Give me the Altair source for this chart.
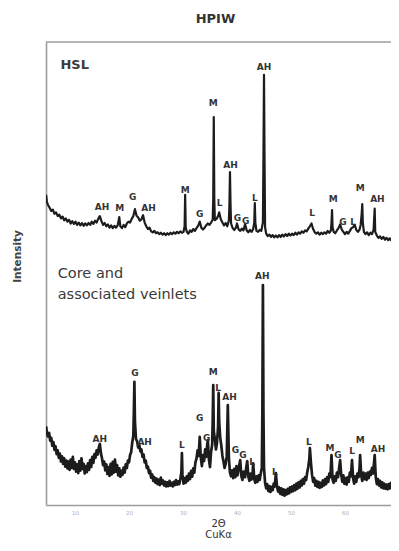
import altair as alt
import pandas as pd

# ---- data: (2-theta, intensity) ----
hsl_points = [
    (4.65, 67.0), (4.8, 65.5), (5.0, 64.8), (5.3, 64.2), (5.6, 63.5), (5.9, 63.8), (6.2, 62.9),
    (6.5, 63.2), (6.8, 62.4), (7.1, 62.7), (7.4, 61.9), (7.7, 62.3), (8.0, 61.5), (8.3, 61.9),
    (8.6, 61.2), (8.9, 61.6), (9.2, 60.8), (9.5, 61.3), (9.8, 60.7), (10.1, 61.2), (10.4, 60.5),
    (10.7, 61.0), (11.0, 60.4), (11.3, 60.9), (11.6, 60.3), (11.9, 60.8), (12.2, 60.4), (12.5, 60.9),
    (12.8, 60.5), (13.1, 61.2), (13.4, 60.7), (13.7, 61.4), (14.0, 61.0), (14.3, 61.8), (14.6, 62.4),
    (14.9, 61.3), (15.2, 60.5), (15.5, 60.9), (15.8, 60.2), (16.1, 60.6), (16.4, 59.9), (16.7, 60.4),
    (17.0, 59.8), (17.3, 60.3), (17.6, 59.9), (17.9, 60.4), (18.2, 62.2), (18.4, 60.2), (18.7, 59.8),
    (19.0, 60.5), (19.3, 60.0), (19.6, 60.8), (19.9, 61.2), (20.2, 61.0), (20.5, 61.8), (20.8, 62.4),
    (21.1, 63.9), (21.4, 62.5), (21.7, 62.1), (22.0, 61.4), (22.3, 61.7), (22.6, 62.6), (22.9, 61.0),
    (23.2, 60.2), (23.5, 59.6), (23.8, 59.9), (24.1, 59.1), (24.4, 58.9), (24.7, 59.2), (25.0, 58.7),
    (25.3, 58.9), (25.6, 58.5), (25.9, 58.8), (26.2, 58.4), (26.5, 58.7), (26.8, 58.3), (27.1, 58.7),
    (27.4, 58.4), (27.7, 58.8), (28.0, 58.5), (28.3, 58.9), (28.6, 58.6), (28.9, 59.0), (29.2, 58.7),
    (29.5, 59.1), (29.8, 58.8), (30.1, 59.0), (30.3, 60.2), (30.4, 67.0), (30.5, 60.0), (30.7, 59.0),
    (31.0, 58.6), (31.3, 59.3), (31.6, 59.0), (31.9, 59.6), (32.2, 59.2), (32.5, 59.8), (32.8, 60.3),
    (33.1, 61.2), (33.4, 59.9), (33.7, 59.5), (34.0, 59.9), (34.3, 60.4), (34.6, 60.8), (34.9, 60.5),
    (35.2, 61.0), (35.5, 61.6), (35.6, 66.0), (35.7, 83.8), (35.8, 66.0), (35.9, 61.5), (36.2, 61.8),
    (36.5, 62.4), (36.7, 63.2), (37.0, 61.7), (37.3, 61.0), (37.6, 60.4), (37.9, 60.9), (38.2, 60.2),
    (38.5, 61.5), (38.6, 65.0), (38.7, 71.9), (38.8, 65.0), (38.9, 60.8), (39.2, 59.8), (39.5, 59.4),
    (39.8, 59.9), (40.0, 60.8), (40.3, 59.5), (40.6, 59.2), (40.9, 59.7), (41.2, 59.3), (41.5, 60.7),
    (41.8, 59.3), (42.1, 58.9), (42.4, 59.4), (42.7, 59.0), (43.0, 59.6), (43.2, 61.0), (43.3, 65.2),
    (43.4, 61.0), (43.6, 59.2), (43.9, 59.0), (44.2, 59.4), (44.5, 59.2), (44.8, 61.0), (44.9, 75.0),
    (45.0, 92.9), (45.1, 75.0), (45.2, 60.0), (45.4, 58.6), (45.7, 58.1), (46.0, 58.4), (46.3, 57.9),
    (46.6, 58.3), (46.9, 57.8), (47.2, 58.2), (47.5, 57.8), (47.8, 58.3), (48.1, 57.9), (48.4, 58.4),
    (48.7, 58.0), (49.0, 58.5), (49.3, 58.1), (49.6, 58.6), (49.9, 58.2), (50.2, 58.6), (50.5, 58.3),
    (50.8, 58.8), (51.1, 58.4), (51.4, 58.9), (51.7, 58.6), (52.0, 59.1), (52.3, 58.8), (52.6, 59.3),
    (52.9, 59.1), (53.2, 59.7), (53.5, 60.2), (53.8, 60.8), (54.1, 59.6), (54.4, 58.9), (54.7, 58.6),
    (55.0, 58.9), (55.3, 58.4), (55.6, 58.8), (55.9, 58.5), (56.2, 58.9), (56.5, 58.6), (56.8, 59.2),
    (57.1, 58.8), (57.4, 59.3), (57.5, 61.0), (57.6, 63.7), (57.7, 60.0), (57.9, 59.0), (58.2, 58.7),
    (58.5, 59.3), (58.8, 59.8), (59.1, 60.6), (59.4, 59.5), (59.7, 59.0), (60.0, 58.5), (60.3, 59.0),
    (60.6, 58.6), (60.9, 59.2), (61.2, 59.8), (61.5, 60.0), (61.8, 60.5), (62.1, 59.4), (62.4, 59.0),
    (62.7, 59.5), (62.9, 60.5), (63.1, 63.0), (63.2, 65.0), (63.3, 61.0), (63.5, 59.0), (63.8, 58.5),
    (64.1, 58.9), (64.4, 58.3), (64.7, 58.8), (65.0, 58.5), (65.3, 59.5), (65.5, 64.0), (65.6, 59.0),
    (65.9, 58.2), (66.2, 57.7), (66.5, 58.0), (66.8, 57.5), (67.1, 57.9), (67.4, 57.3), (67.7, 57.7),
    (68.0, 57.2), (68.3, 57.6), (68.6, 57.1), (68.9, 57.5), (69.2, 57.0), (69.5, 57.4), (69.8, 57.0),
    (70.0, 57.2),
]

core_points = [
    (4.65, 17.0), (4.8, 15.5), (5.0, 14.8), (5.2, 15.6), (5.4, 13.9), (5.6, 14.5), (5.8, 12.8),
    (6.0, 13.6), (6.2, 11.9), (6.4, 12.7), (6.6, 11.0), (6.8, 11.8), (7.0, 10.2), (7.2, 11.1),
    (7.4, 9.4), (7.6, 10.5), (7.8, 8.9), (8.0, 10.1), (8.2, 8.3), (8.4, 9.6), (8.6, 7.9), (8.8, 9.4),
    (9.0, 7.6), (9.2, 9.8), (9.4, 8.0), (9.6, 10.4), (9.8, 7.8), (10.0, 9.2), (10.2, 7.2), (10.4, 8.8),
    (10.6, 6.9), (10.8, 9.5), (11.0, 7.4), (11.2, 10.1), (11.4, 7.8), (11.6, 8.9), (11.8, 6.8),
    (12.0, 8.4), (12.2, 7.1), (12.4, 9.0), (12.6, 7.6), (12.8, 9.7), (13.0, 8.2), (13.2, 10.4),
    (13.4, 9.1), (13.6, 11.0), (13.8, 10.2), (14.0, 11.8), (14.2, 10.9), (14.4, 12.4), (14.6, 13.2),
    (14.8, 11.2), (15.0, 10.1), (15.2, 8.6), (15.4, 9.4), (15.6, 7.5), (15.8, 8.8), (16.0, 6.7),
    (16.2, 8.2), (16.4, 6.3), (16.6, 8.9), (16.8, 6.6), (17.0, 9.3), (17.2, 7.0), (17.4, 9.8),
    (17.6, 7.2), (17.8, 8.6), (18.0, 6.4), (18.2, 7.9), (18.4, 6.1), (18.6, 7.4), (18.8, 6.5),
    (19.0, 8.1), (19.2, 7.0), (19.4, 8.8), (19.6, 8.0), (19.8, 9.6), (20.0, 9.2), (20.2, 10.8),
    (20.4, 11.4), (20.6, 13.5), (20.8, 15.0), (20.9, 20.0), (21.0, 26.6), (21.1, 18.0), (21.3, 14.2),
    (21.5, 13.8), (21.7, 12.4), (21.9, 13.0), (22.1, 11.6), (22.3, 12.0), (22.5, 10.4), (22.7, 10.9),
    (22.9, 9.2), (23.1, 9.6), (23.3, 8.0), (23.5, 8.3), (23.7, 6.9), (23.9, 7.4), (24.1, 5.9),
    (24.3, 6.6), (24.5, 5.2), (24.7, 6.0), (24.9, 4.8), (25.1, 5.7), (25.3, 4.5), (25.5, 5.5),
    (25.7, 4.3), (25.9, 5.9), (26.1, 4.6), (26.3, 5.3), (26.5, 4.2), (26.7, 5.0), (26.9, 4.0),
    (27.1, 4.9), (27.3, 4.1), (27.5, 5.2), (27.7, 4.2), (27.9, 4.8), (28.1, 4.0), (28.3, 5.0),
    (28.5, 4.3), (28.7, 5.4), (28.9, 4.4), (29.1, 5.1), (29.3, 4.5), (29.5, 5.6), (29.7, 7.0),
    (29.8, 11.2), (29.9, 6.5), (30.1, 4.6), (30.3, 5.8), (30.5, 4.8), (30.7, 6.2), (30.9, 5.2),
    (31.1, 6.8), (31.3, 5.6), (31.5, 7.4), (31.7, 6.1), (31.9, 7.9), (32.1, 7.0), (32.3, 9.2),
    (32.5, 10.0), (32.7, 11.8), (32.9, 10.6), (33.1, 14.7), (33.3, 10.2), (33.5, 8.4), (33.7, 10.8),
    (33.9, 9.5), (34.1, 12.0), (34.3, 10.4), (34.5, 13.2), (34.6, 14.0), (34.8, 9.8), (35.0, 8.2),
    (35.2, 11.5), (35.4, 13.0), (35.5, 18.0), (35.6, 25.9), (35.7, 16.0), (35.9, 14.2), (36.1, 12.0),
    (36.3, 13.5), (36.5, 17.0), (36.6, 24.2), (36.7, 18.0), (36.9, 14.5), (37.1, 12.8), (37.3, 10.6),
    (37.5, 9.4), (37.7, 8.0), (37.9, 8.9), (38.1, 10.5), (38.3, 21.6), (38.5, 10.0), (38.7, 7.0),
    (38.9, 6.2), (39.1, 7.5), (39.3, 5.8), (39.5, 7.8), (39.7, 6.0), (39.9, 8.4), (40.1, 6.4),
    (40.4, 8.5), (40.6, 9.7), (40.8, 6.3), (41.0, 5.4), (41.2, 7.2), (41.5, 6.0), (41.7, 8.0),
    (41.9, 9.5), (42.1, 6.1), (42.3, 5.2), (42.5, 6.8), (42.7, 5.5), (42.9, 7.0), (43.0, 9.0),
    (43.2, 5.6), (43.4, 4.8), (43.6, 6.2), (43.8, 5.0), (44.0, 6.4), (44.2, 5.4), (44.4, 6.8),
    (44.6, 8.0), (44.7, 20.0), (44.8, 47.5), (44.9, 20.0), (45.0, 8.0), (45.2, 4.8), (45.4, 3.6),
    (45.6, 4.5), (45.8, 3.0), (46.0, 4.1), (46.2, 2.8), (46.4, 3.9), (46.6, 3.2), (46.8, 4.6),
    (47.0, 4.0), (47.2, 6.9), (47.4, 4.1), (47.6, 2.9), (47.8, 3.8), (48.0, 2.4), (48.2, 3.6),
    (48.4, 2.2), (48.6, 3.4), (48.8, 2.0), (49.0, 3.2), (49.2, 2.3), (49.4, 3.5), (49.6, 2.5),
    (49.8, 3.8), (50.0, 2.8), (50.2, 4.0), (50.4, 3.0), (50.6, 4.3), (50.8, 3.2), (51.0, 4.6),
    (51.2, 3.5), (51.4, 4.9), (51.6, 3.8), (51.8, 5.2), (52.0, 4.2), (52.2, 5.6), (52.4, 4.6),
    (52.6, 6.0), (52.8, 5.4), (53.0, 7.0), (53.2, 8.2), (53.4, 10.0), (53.5, 12.3), (53.7, 9.0),
    (53.9, 6.5), (54.1, 5.0), (54.3, 5.8), (54.5, 4.2), (54.7, 5.2), (54.9, 3.9), (55.1, 5.0),
    (55.3, 3.7), (55.5, 4.8), (55.7, 3.9), (55.9, 5.3), (56.1, 4.2), (56.3, 5.6), (56.5, 4.5),
    (56.7, 6.0), (56.9, 5.0), (57.1, 6.8), (57.3, 6.0), (57.5, 10.8), (57.7, 5.5), (57.9, 4.8),
    (58.1, 6.2), (58.3, 5.2), (58.5, 7.0), (58.7, 6.0), (58.9, 7.8), (59.1, 9.7), (59.3, 6.5),
    (59.5, 5.0), (59.7, 6.4), (59.9, 4.6), (60.1, 5.8), (60.3, 4.4), (60.5, 6.0), (60.7, 5.0),
    (60.9, 7.0), (61.1, 6.2), (61.3, 9.7), (61.5, 5.8), (61.7, 4.6), (61.9, 6.2), (62.1, 5.0),
    (62.3, 6.8), (62.5, 6.0), (62.7, 8.0), (62.8, 10.8), (63.0, 6.4), (63.2, 5.2), (63.4, 7.0),
    (63.6, 5.6), (63.8, 6.8), (64.0, 5.4), (64.2, 7.0), (64.4, 5.8), (64.6, 7.2), (64.8, 6.5),
    (65.0, 8.0), (65.2, 6.8), (65.5, 10.8), (65.7, 6.0), (65.9, 4.5), (66.1, 5.6), (66.3, 4.2),
    (66.5, 5.2), (66.7, 3.8), (66.9, 4.9), (67.1, 3.6), (67.3, 4.6), (67.5, 3.5), (67.7, 4.4),
    (67.9, 3.4), (68.1, 4.5), (68.3, 3.6), (68.5, 4.8), (68.7, 3.9), (68.9, 5.0), (69.1, 4.0),
    (69.3, 4.6), (69.5, 3.8), (69.7, 4.4), (70.0, 4.0),
]

# peak labels: (text, 2-theta, intensity)
hsl_labels = [
    ("AH", 15.0, 64.4), ("M", 18.3, 64.1), ("G", 20.7, 66.5), ("AH", 23.6, 64.1),
    ("M", 30.4, 68.0), ("G", 33.1, 62.8), ("M", 35.6, 86.8), ("L", 36.8, 65.2),
    ("AH", 38.8, 73.4), ("G", 40.1, 62.0), ("G", 41.6, 61.3), ("L", 43.3, 66.3),
    ("AH", 45.0, 94.6), ("L", 53.9, 63.1), ("M", 57.8, 66.1), ("G", 59.6, 61.1),
    ("L", 61.5, 61.1), ("M", 62.8, 68.5), ("AH", 66.0, 66.1),
]
core_labels = [
    ("AH", 14.6, 14.3), ("G", 21.1, 28.5), ("AH", 22.9, 13.6), ("L", 29.8, 13.0),
    ("G", 33.1, 18.8), ("G", 34.4, 14.5), ("M", 35.6, 28.7), ("L", 36.5, 25.3),
    ("AH", 38.6, 23.3), ("G", 39.7, 11.9), ("G", 41.1, 10.8), ("L", 42.8, 9.3),
    ("AH", 44.7, 49.5), ("L", 47.0, 7.1), ("L", 53.3, 13.6), ("M", 57.2, 12.3),
    ("G", 58.7, 10.8), ("L", 61.3, 11.7), ("M", 62.8, 14.0), ("AH", 66.1, 12.1),
]

hsl_name = [("HSL", 7.3, 95.0)]
core_name = [("Core and", 6.8, 49.8), ("associated veinlets", 6.8, 45.3)]

x_ticks = [10, 20, 30, 40, 50, 60]
x_domain = [4.63, 68.52]
y_domain = [0, 100]

# ---- tables ----
df_hsl = pd.DataFrame(hsl_points, columns=["theta", "intensity"])
df_core = pd.DataFrame(core_points, columns=["theta", "intensity"])
df_labels = pd.DataFrame(hsl_labels + core_labels, columns=["text", "theta", "intensity"])
df_hsl_name = pd.DataFrame(hsl_name, columns=["text", "theta", "intensity"])
df_core_name = pd.DataFrame(core_name, columns=["text", "theta", "intensity"])

frame_col = "#9c9c9c"
ink = "#1c1c1c"
FONT = "DejaVu Sans"

x_enc = alt.X(
    "theta:Q",
    scale=alt.Scale(domain=x_domain, nice=False, zero=False),
    axis=alt.Axis(
        values=x_ticks, ticks=False, grid=False, labelFontSize=5.5, labelColor="#b0b0b0",
        labelPadding=5, domainColor=frame_col, domainWidth=1.6, labelFont=FONT,
        title=["2Θ", "CuKα"], titleFontSize=10, titleFont=FONT, titleColor="#333333",
        titleFontWeight="normal", titleX=172, titleY=13, titleBaseline="top",
        titleLineHeight=11.5,
    ),
)
y_scale = alt.Scale(domain=y_domain, nice=False, zero=False)
y_enc = alt.Y(
    "intensity:Q",
    scale=y_scale,
    axis=alt.Axis(
        labels=False, ticks=False, grid=False, domainColor=frame_col, domainWidth=1.6,
        title="Intensity", titleFontSize=10.5, titleFont=FONT, titleColor="#444444",
        titleFontWeight="bold", titleX=-29, titleY=214, titleAngle=270,
        titleAlign="center", titleBaseline="middle",
    ),
)

line_hsl = alt.Chart(df_hsl).mark_line(
    color=ink, strokeWidth=2.2, clip=True, strokeJoin="round"
).encode(x=x_enc, y=y_enc, order="theta:Q")

line_core = alt.Chart(df_core).mark_line(
    color=ink, strokeWidth=2.7, clip=True, strokeJoin="round"
).encode(x="theta:Q", y="intensity:Q", order="theta:Q")

top_rule = alt.Chart(df_hsl_name).mark_rule(
    color=frame_col, strokeWidth=1.6
).encode(y=alt.datum(100, scale=y_scale))

labels = alt.Chart(df_labels).mark_text(
    font=FONT, fontSize=9, fontWeight="bold", color="#333333", baseline="middle"
).encode(x="theta:Q", y="intensity:Q", text="text:N")

hsl_txt = alt.Chart(df_hsl_name).mark_text(
    font=FONT, fontSize=13, fontWeight="bold", color="#3a3a3a", align="left", baseline="middle"
).encode(x="theta:Q", y="intensity:Q", text="text:N")

core_txt = alt.Chart(df_core_name).mark_text(
    font=FONT, fontSize=14.5, fontWeight="normal", color="#3a3a3a", align="left", baseline="middle"
).encode(x="theta:Q", y="intensity:Q", text="text:N")

chart = alt.layer(top_rule, line_hsl, line_core, labels, hsl_txt, core_txt).properties(
    width=345,
    height=463,
    autosize=alt.AutoSizeParams(type="none"),
    padding={"left": 38, "top": 34, "right": 0, "bottom": 36},
    title=alt.TitleParams(
        "HPIW", fontSize=13, font=FONT, fontWeight="bold", color="#333333",
        anchor="middle", offset=15, dx=-3,
    ),
).configure_view(strokeWidth=0)

chart.save("out.html", embed_options={"renderer": "svg", "actions": False})
